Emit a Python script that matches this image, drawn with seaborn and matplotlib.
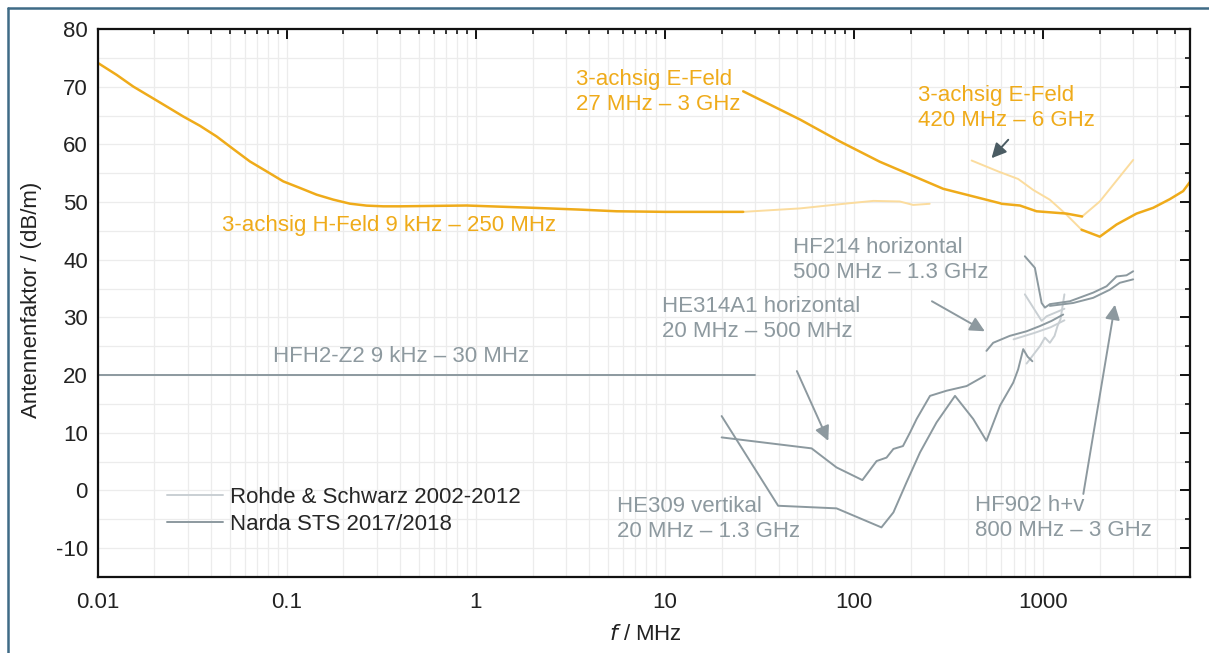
import numpy as np
import matplotlib
matplotlib.use('Agg')
import matplotlib.pyplot as plt
from matplotlib.lines import Line2D
from matplotlib.ticker import FixedLocator, FuncFormatter, MultipleLocator, LogLocator, NullFormatter
import seaborn as sns

# Antennenfaktoren (f in MHz, AF in dB/m)
h_feld_narda_f = [0.0101, 0.01264, 0.01546, 0.01896, 0.02323, 0.02842, 0.03483, 0.04266, 0.05225,
                  0.06397, 0.07847, 0.0961, 0.1178, 0.1442, 0.1766, 0.2163, 0.2652, 0.3246, 0.398,
                  0.895, 2.02, 3.5, 5.57, 10, 26]
h_feld_narda_af = [74.07, 72.04, 70.02, 68.29, 66.56, 64.83, 63.22, 61.37, 59.19,
                   57.04, 55.31, 53.58, 52.44, 51.28, 50.42, 49.72, 49.38, 49.26, 49.26,
                   49.4, 49.0, 48.7, 48.4, 48.3, 48.3]
h_feld_rs_f = [26, 52, 95, 127, 175, 206, 252]
h_feld_rs_af = [48.3, 48.9, 49.8, 50.2, 50.1, 49.5, 49.7]

e27_narda_f = [26, 52, 84.5, 137, 297, 593, 605, 756, 926, 1334, 1613]
e27_narda_af = [69.2, 64.3, 60.5, 57.0, 52.3, 49.8, 49.7, 49.4, 48.4, 48.0, 47.5]
e27_rs_f = [1613, 2000, 3003]
e27_rs_af = [47.5, 50.1, 57.3]

e420_rs_f = [420, 581, 740, 889, 1089, 1334, 1602]
e420_rs_af = [57.2, 55.3, 54.0, 52.1, 50.4, 47.8, 45.2]
e420_narda_f = [1602, 2000, 2452, 3128, 3832, 4693, 5520, 6000]
e420_narda_af = [45.2, 44.0, 46.1, 48.0, 49.0, 50.5, 51.9, 53.5]

hfh2_f = [0.01, 30]
hfh2_af = [20, 20]

he314_f = [20, 59.8, 81, 111, 132, 149, 162, 182, 198, 215, 253, 310, 395, 494]
he314_af = [9.2, 7.3, 4.0, 1.8, 5.1, 5.7, 7.2, 7.7, 10.0, 12.4, 16.4, 17.3, 18.1, 19.9]

he309_narda_f = [20, 39.8, 81, 140, 162, 190, 224, 274, 343, 428, 503, 593, 697, 740, 787, 830, 880]
he309_narda_af = [12.9, -2.65, -3.1, -6.4, -3.8, 1.4, 6.6, 11.8, 16.4, 12.4, 8.6, 14.7, 18.7, 21.0, 24.5, 23.2, 22.4]
he309_rs_f = [820, 964, 1025, 1089, 1153, 1195, 1240, 1300]
he309_rs_af = [22.0, 25.0, 26.5, 25.6, 26.8, 28.5, 29.7, 34.0]

hf214_narda_f = [503, 546, 668, 820, 964, 1112, 1281]
hf214_narda_af = [24.2, 25.6, 26.8, 27.6, 28.5, 29.4, 30.5]
hf214_rs_f = [700, 900, 1100, 1300]
hf214_rs_af = [26.2, 27.3, 28.3, 29.5]

hf902_h_f = [803, 907, 985, 1025, 1089, 1389, 1846, 2172, 2452, 2769, 3003]
hf902_h_af = [40.6, 38.6, 32.5, 31.7, 32.3, 32.8, 34.3, 35.4, 37.1, 37.3, 38.0]
hf902_v_f = [1089, 1445, 1846, 2259, 2551, 3003]
hf902_v_af = [32.0, 32.5, 33.4, 34.8, 36.0, 36.6]
hf902_rs_f = [803, 985, 1047, 1300]
hf902_rs_af = [34.0, 29.4, 30.2, 31.5]

x_ticks = [0.01, 0.1, 1, 10, 100, 1000]
x_labels = ['0.01', '0.1', '1', '10', '100', '1000']

sns.set_theme(style='white')
plt.rcParams['font.family'] = ['Liberation Sans', 'DejaVu Sans']
plt.rcParams['axes.unicode_minus'] = False

orange = '#efab1a'
orange_light = '#fbdc9e'
gray = '#8c999f'
gray_light = '#c9cfd3'
label_gray = '#8d999f'

fig = plt.figure(figsize=(12.09, 6.53), dpi=100)
ax = fig.add_axes([97.5 / 1209, 1 - 577 / 653, (1190 - 97.5) / 1209, (577 - 29) / 653])

# light (R&S) first, dark (Narda) on top
light = [(h_feld_rs_f, h_feld_rs_af, orange_light), (e27_rs_f, e27_rs_af, orange_light),
         (e420_rs_f, e420_rs_af, orange_light), (he309_rs_f, he309_rs_af, gray_light),
         (hf214_rs_f, hf214_rs_af, gray_light), (hf902_rs_f, hf902_rs_af, gray_light)]
for f, af, c in light:
    sns.lineplot(x=f, y=af, color=c, lw=1.4, sort=False, estimator=None, ax=ax)

dark = [(hfh2_f, hfh2_af, gray), (he314_f, he314_af, gray), (he309_narda_f, he309_narda_af, gray),
        (hf214_narda_f, hf214_narda_af, gray), (hf902_h_f, hf902_h_af, gray),
        (hf902_v_f, hf902_v_af, gray)]
for f, af, c in dark:
    sns.lineplot(x=f, y=af, color=c, lw=1.4, sort=False, estimator=None, ax=ax)

for f, af in [(h_feld_narda_f, h_feld_narda_af), (e27_narda_f, e27_narda_af), (e420_narda_f, e420_narda_af)]:
    sns.lineplot(x=f, y=af, color=orange, lw=1.8, sort=False, estimator=None, ax=ax)

ax.set_xscale('log')
ax.set_xlim(0.01, 6000)
ax.set_ylim(-15, 80)
ax.xaxis.set_major_locator(FixedLocator(x_ticks))
ax.xaxis.set_major_formatter(FuncFormatter(lambda v, p: x_labels[x_ticks.index(v)] if v in x_ticks else ''))
ax.xaxis.set_minor_locator(LogLocator(base=10, subs=np.arange(2, 10)))
ax.xaxis.set_minor_formatter(NullFormatter())
ax.yaxis.set_major_locator(MultipleLocator(10))
ax.yaxis.set_minor_locator(MultipleLocator(5))

ax.grid(which='both', color='#ececec', lw=0.9)
ax.tick_params(which='both', direction='in', top=True, right=True, colors='#111111',
               labelsize=16, labelcolor='#222222')
ax.tick_params(which='major', length=7, width=1.4)
ax.tick_params(which='minor', length=3.5, width=1.2)
ax.tick_params(axis='x', pad=11)
ax.tick_params(axis='y', pad=7)
for s in ax.spines.values():
    s.set_color('#111111')
    s.set_linewidth(1.6)
ax.set_xlabel('')
ax.set_ylabel('')

fig.text(32 / 1209, 1 - 300 / 653, 'Antennenfaktor / (dB/m)', rotation=90, ha='center', va='center',
         fontsize=16, color='#222222')
fig.text(645 / 1209, 1 - 634 / 653, r'$\it{f}$ / MHz', ha='center', va='center', fontsize=16, color='#222222')


# curve labels
def ftxt(x, y, s, c):
    fig.text(x / 1209, 1 - y / 653, s, color=c, fontsize=16, ha='left', va='center', linespacing=1.25)


ftxt(576, 92, '3-achsig E-Feld\n27 MHz – 3 GHz', orange)
ftxt(918, 108, '3-achsig E-Feld\n420 MHz – 6 GHz', orange)
ftxt(222, 225, '3-achsig H-Feld 9 kHz – 250 MHz', orange)
ftxt(793, 260, 'HF214 horizontal\n500 MHz – 1.3 GHz', label_gray)
ftxt(662, 319, 'HE314A1 horizontal\n20 MHz – 500 MHz', label_gray)
ftxt(273, 357, 'HFH2-Z2 9 kHz – 30 MHz', label_gray)
ftxt(617, 519, 'HE309 vertikal\n20 MHz – 1.3 GHz', label_gray)
ftxt(975, 518, 'HF902 h+v\n800 MHz – 3 GHz', label_gray)

# arrows
arr = [((50, 20.7), (73.3, 8.6), label_gray), ((259, 32.8), (493, 27.6), label_gray),
       ((1637, -0.6), (2406, 32.2), label_gray), ((656, 60.8), (535, 57.6), '#4b5c63')]
for tail, head, c in arr:
    ax.annotate('', xy=head, xytext=tail,
                arrowprops=dict(arrowstyle='-|>', color=c, lw=1.4, mutation_scale=22, shrinkA=0, shrinkB=0))

handles = [Line2D([], [], color=gray_light, lw=1.4), Line2D([], [], color=gray, lw=1.4)]
fig.legend(handles, ['Rohde & Schwarz 2002-2012', 'Narda STS 2017/2018'], loc='center left',
           bbox_to_anchor=(167 / 1209, 1 - 511 / 653), frameon=False, fontsize=16,
           handlelength=2.5, handletextpad=0.35, labelspacing=0.25, borderpad=0, borderaxespad=0)

# outer frame (cropped box)
fx = 7.5 / 1209
fy = 1 - 7.5 / 653
fig.add_artist(Line2D([fx, fx], [0, fy], color='#3f6b86', lw=1.8, transform=fig.transFigure))
fig.add_artist(Line2D([fx, 1], [fy, fy], color='#3f6b86', lw=1.8, transform=fig.transFigure))

fig.savefig('out.png', dpi=100)
